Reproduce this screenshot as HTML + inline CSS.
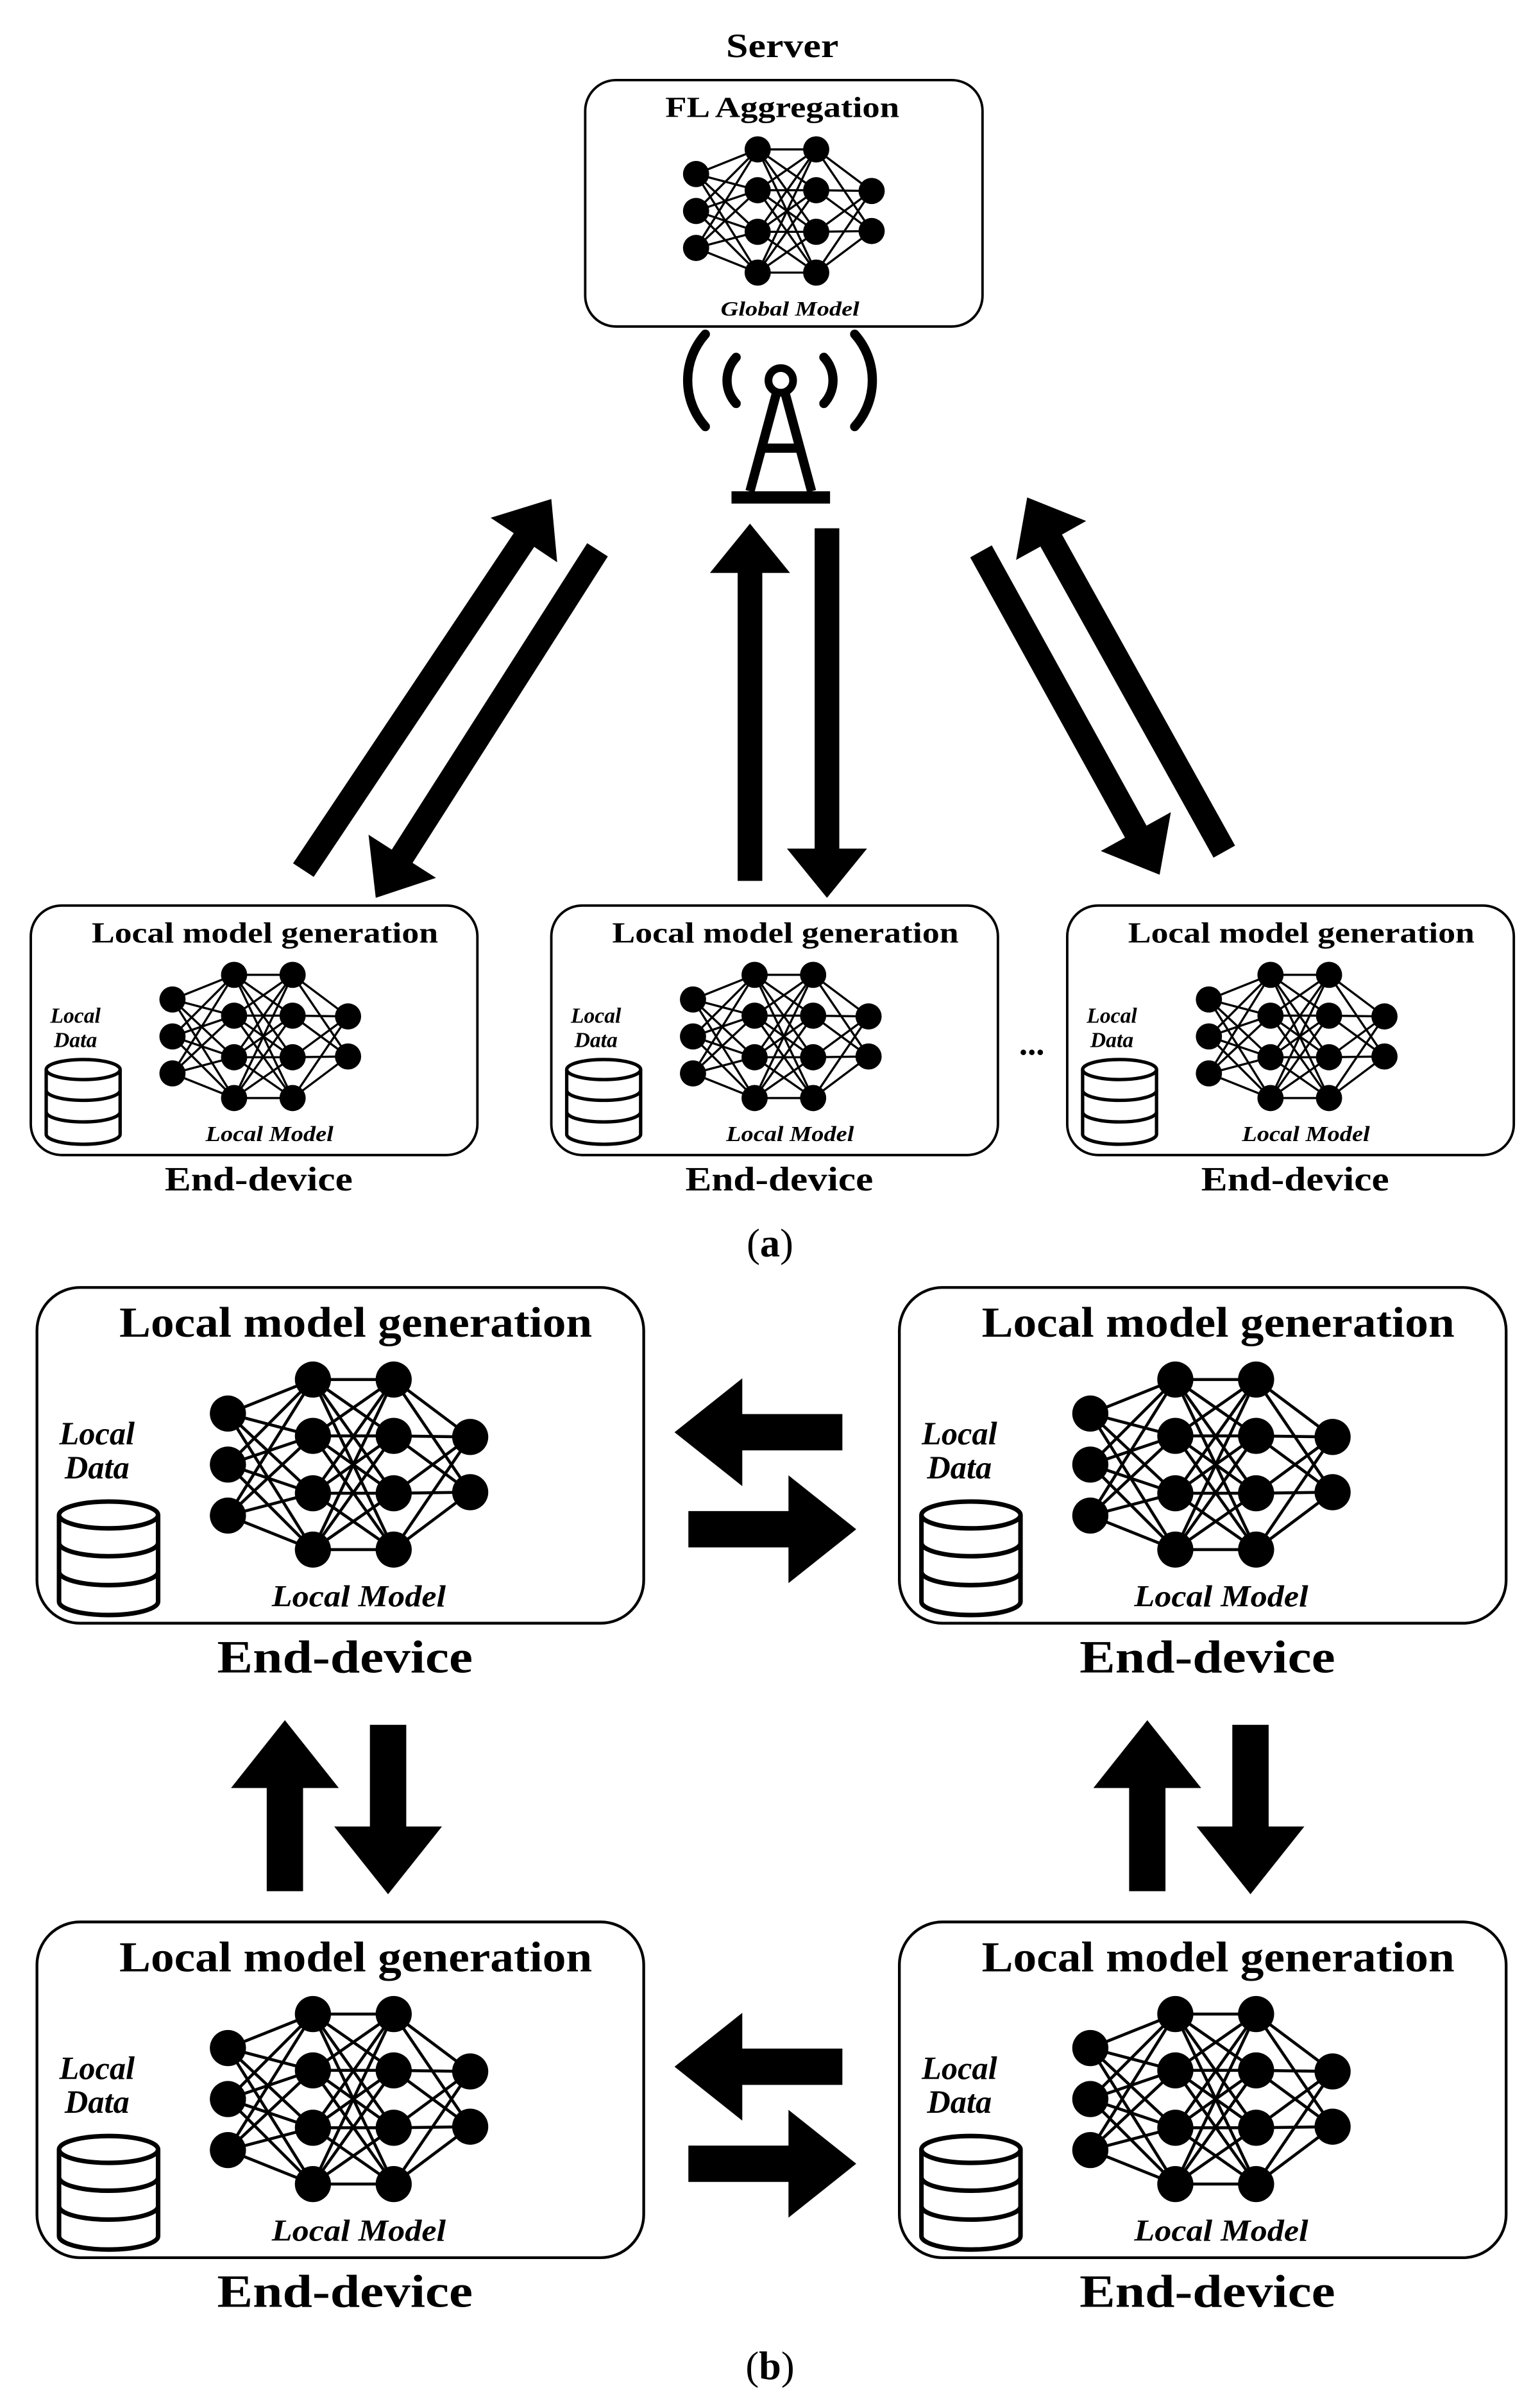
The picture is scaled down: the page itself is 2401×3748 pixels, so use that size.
<!DOCTYPE html>
<html><head><meta charset="utf-8"><style>
html,body{margin:0;padding:0;background:#fff;}
svg{display:block;}
text{font-family:"Liberation Serif",serif;font-weight:bold;fill:#000;}
.it{font-style:italic;}
</style></head><body>
<svg id="s" width="2401" height="3748" viewBox="0 0 1000 1561" xmlns="http://www.w3.org/2000/svg">
<defs>
<g id="nn">
<g id="nnlines" stroke="#000" stroke-width="1.4"></g>
<g id="nnnodes" fill="#000"></g>
</g>
<g id="cyl" fill="none" stroke="#000" stroke-width="2.2">
<ellipse cx="25" cy="6.5" rx="24" ry="6.5" fill="#fff"/>
<path d="M1 6.5 V48.5 A24 6.5 0 0 0 49 48.5 V6.5"/>
<path d="M1 20 A24 6.5 0 0 0 49 20"/>
<path d="M1 34 A24 6.5 0 0 0 49 34"/>
</g>
</defs>

<!-- (a) server -->
<text x="508" y="37" font-size="22" text-anchor="middle" textLength="73" lengthAdjust="spacingAndGlyphs">Server</text>
<rect x="380" y="52" width="258" height="160" rx="20" fill="none" stroke="#000" stroke-width="1.6"/>
<text x="508" y="76" font-size="19" text-anchor="middle" textLength="152" lengthAdjust="spacingAndGlyphs">FL Aggregation</text>
<use href="#nn" transform="translate(452,137)"/>
<text class="it" x="513" y="205" font-size="13" text-anchor="middle" textLength="90" lengthAdjust="spacingAndGlyphs">Global Model</text>

<!-- tower -->
<g fill="none" stroke="#000" stroke-width="6" stroke-linecap="round">
<path d="M478 232 A22 22 0 0 0 478 262"/>
<path d="M535 232 A22 22 0 0 1 535 262"/>
<path d="M458 217 A45 45 0 0 0 458 277"/>
<path d="M555 217 A45 45 0 0 1 555 277"/>
</g>
<circle cx="507" cy="247" r="8" fill="none" stroke="#000" stroke-width="5"/>
<g stroke="#000" stroke-width="6" fill="none">
<path d="M504 256 L487 319 M510 256 L527 319"/>
<line x1="495" y1="291" x2="519" y2="291"/>
</g>
<rect x="475" y="319" width="64" height="8" fill="#000"/>

<g id="arrows" fill="#000"></g>

<!-- (a) devices -->
<g id="adev"></g>
<text x="670" y="685" font-size="22" text-anchor="middle">...</text>
<text x="500" y="816" font-size="26" text-anchor="middle" style="font-weight:normal">(<tspan style="font-weight:bold">a</tspan>)</text>

<!-- (b) devices -->
<g id="bdev"></g>
<text x="500" y="1545" font-size="26" text-anchor="middle" style="font-weight:normal">(<tspan style="font-weight:bold">b</tspan>)</text>
</svg>
<script>
(function(){
var NS="http://www.w3.org/2000/svg";
function el(tag,attrs,parent,txt){var e=document.createElementNS(NS,tag);for(var k in attrs)e.setAttribute(k,attrs[k]);if(txt)e.textContent=txt;parent.appendChild(e);return e;}
var L=[[[0,-24],[0,0],[0,24]],[[40,-40],[40,-13.5],[40,13.5],[40,40]],[[78,-40],[78,-13.5],[78,13.5],[78,40]],[[114,-13],[114,13]]];
var lg=document.getElementById("nnlines"),ng=document.getElementById("nnnodes");
for(var i=0;i<3;i++)L[i].forEach(function(a){L[i+1].forEach(function(b){el("line",{x1:a[0],y1:a[1],x2:b[0],y2:b[1]},lg);});});
L.forEach(function(l){l.forEach(function(p){el("circle",{cx:p[0],cy:p[1],r:8.5},ng);});});
var ag=document.getElementById("arrows");
function arrow(tx,ty,px,py,sw,hw,hl){
 var dx=px-tx,dy=py-ty,len=Math.hypot(dx,dy),ux=dx/len,uy=dy/len,nx=-uy,ny=ux;
 var bx=px-ux*hl,by=py-uy*hl;
 var pts=[[tx+nx*sw,ty+ny*sw],[bx+nx*sw,by+ny*sw],[bx+nx*hw,by+ny*hw],[px,py],[bx-nx*hw,by-ny*hw],[bx-nx*sw,by-ny*sw],[tx-nx*sw,ty-ny*sw]];
 el("polygon",{points:pts.map(function(p){return p[0].toFixed(1)+","+p[1].toFixed(1);}).join(" ")},ag);
}
var a=[8,26,32];
arrow(197,565,358,324,a[0],a[1],a[2]);
arrow(388,357,244,583,a[0],a[1],a[2]);
arrow(487,572,487,340,a[0],a[1],a[2]);
arrow(537,343,537,583,a[0],a[1],a[2]);
arrow(637,358,753,568,a[0],a[1],a[2]);
arrow(795,553,667,323,a[0],a[1],a[2]);
var b=[11.8,35,44];
[0,412].forEach(function(oy){
 arrow(547,930+oy,438,930+oy,b[0],b[1],b[2]);
 arrow(447,993+oy,556,993+oy,b[0],b[1],b[2]);
});
[0,560].forEach(function(ox){
 arrow(185+ox,1228,185+ox,1117,b[0],b[1],b[2]);
 arrow(252+ox,1120,252+ox,1230,b[0],b[1],b[2]);
});
var ad=document.getElementById("adev");
[0,338,673].forEach(function(ox){
 var g=el("g",{transform:"translate("+ox+",0)"},ad);
 el("rect",{x:20,y:588,width:290,height:162,rx:20,fill:"none",stroke:"#000","stroke-width":1.6},g);
 el("text",{x:172,y:612,"font-size":19,"text-anchor":"middle",textLength:225,lengthAdjust:"spacingAndGlyphs"},g,"Local model generation");
 el("text",{x:49,y:664,"font-size":14,"text-anchor":"middle","class":"it"},g,"Local");
 el("text",{x:49,y:680,"font-size":14,"text-anchor":"middle","class":"it"},g,"Data");
 el("use",{href:"#cyl",transform:"translate(29,688)"},g);
 el("use",{href:"#nn",transform:"translate(112,673)"},g);
 el("text",{x:175,y:741,"font-size":14,"text-anchor":"middle","class":"it",textLength:83,lengthAdjust:"spacingAndGlyphs"},g,"Local Model");
 el("text",{x:168,y:773,"font-size":22,"text-anchor":"middle",textLength:122,lengthAdjust:"spacingAndGlyphs"},g,"End-device");
});
var bd=document.getElementById("bdev");
[[0,0],[560,0],[0,412],[560,412]].forEach(function(o){
 var g=el("g",{transform:"translate("+o[0]+","+o[1]+")"},bd);
 el("rect",{x:24,y:836,width:394,height:218,rx:28,fill:"none",stroke:"#000","stroke-width":1.8},g);
 el("text",{x:231,y:868,"font-size":28,"text-anchor":"middle",textLength:307,lengthAdjust:"spacingAndGlyphs"},g,"Local model generation");
 el("text",{x:63,y:938,"font-size":21,"text-anchor":"middle","class":"it"},g,"Local");
 el("text",{x:63,y:960,"font-size":21,"text-anchor":"middle","class":"it"},g,"Data");
 el("use",{href:"#cyl",transform:"translate(37,975) scale(1.34)"},g);
 el("use",{href:"#nn",transform:"translate(148,951) scale(1.38)"},g);
 el("text",{x:233,y:1043,"font-size":20,"text-anchor":"middle","class":"it",textLength:113,lengthAdjust:"spacingAndGlyphs"},g,"Local Model");
 el("text",{x:224,y:1086,"font-size":30,"text-anchor":"middle",textLength:166,lengthAdjust:"spacingAndGlyphs"},g,"End-device");
});
})();
</script>
</body></html>
